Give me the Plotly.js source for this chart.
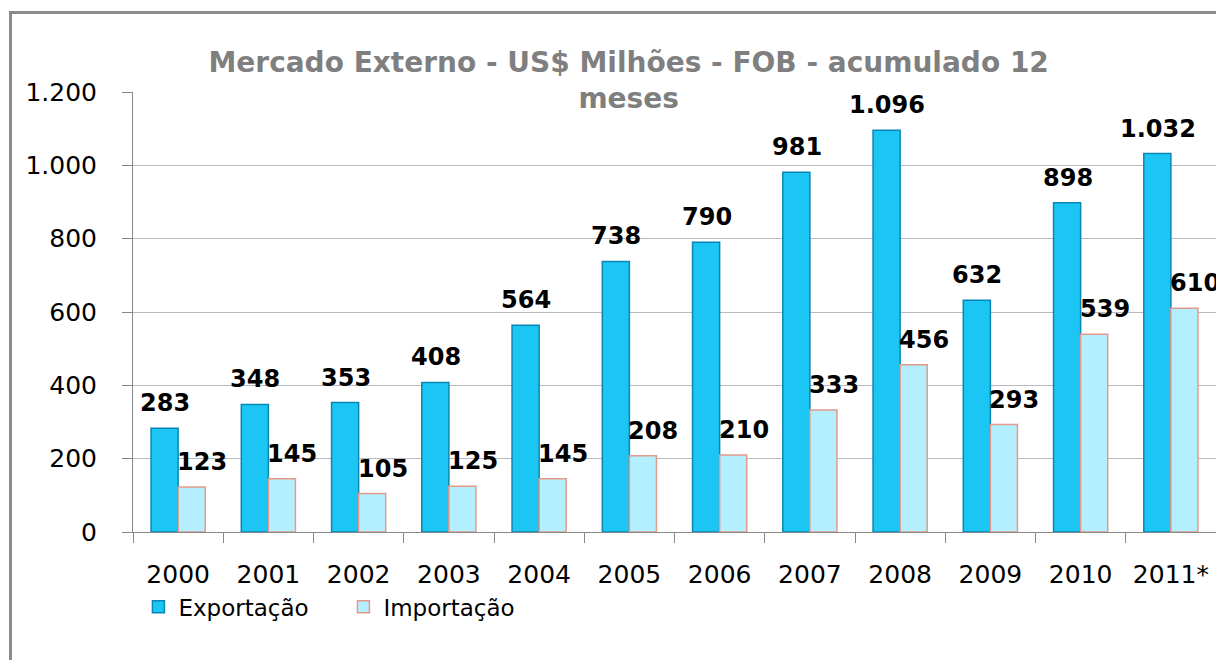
<!DOCTYPE html>
<html>
<head>
<meta charset="utf-8">
<script src="https://cdn.plot.ly/plotly-3.0.1.min.js"></script>
<style>
html,body{margin:0;padding:0;width:1216px;height:660px;overflow:hidden;background:#fff;}
#chart{position:absolute;left:0;top:0;width:1216px;height:660px;}
#frame{position:absolute;left:9px;top:11px;width:1400px;height:900px;border:3px solid #8a8a8a;pointer-events:none;}
</style>
</head>
<body>
<div id="chart"></div>
<div id="frame"></div>
<script>
const years = ["2000","2001","2002","2003","2004","2005","2006","2007","2008","2009","2010","2011*"];
const exportacao = [283,348,353,408,564,738,790,981,1096,632,898,1032];
const importacao = [123,145,105,125,145,208,210,333,456,293,539,610];
const exportLabels = ["283","348","353","408","564","738","790","981","1.096","632","898","1.032"];
const importLabels = ["123","145","105","125","145","208","210","333","456","293","539","610"];
const yTickVals = [0,200,400,600,800,1000,1200];
const yTickText = ["0","200","400","600","800","1.000","1.200"];

const labelFont = {family:"DejaVu Sans", size:24, color:"#000", weight:"bold"};

const data = [
  {type:"bar", name:"Exportação", x:years, y:exportacao,
   marker:{color:"#1cc6f4", line:{color:"#0a86b4", width:1.5}}},
  {type:"bar", name:"Importação", x:years, y:importacao,
   marker:{color:"#b4efff", line:{color:"#e39a8a", width:1.5}}}
];

const annotations = [];
years.forEach((yr, i) => {
  annotations.push({x:i, y:exportacao[i], text:exportLabels[i], xref:"x", yref:"y",
    showarrow:false, xanchor:"center", yanchor:"bottom", xshift:-13, yshift:9, font:labelFont});
  annotations.push({x:i, y:importacao[i], text:importLabels[i], xref:"x", yref:"y",
    showarrow:false, xanchor:"center", yanchor:"bottom", xshift:24, yshift:9, font:labelFont});
});

const layout = {
  width:1216, height:660,
  paper_bgcolor:"#fff", plot_bgcolor:"#fff",
  margin:{l:133, r:0, t:92, b:128},
  barmode:"group", bargap:0.4, bargroupgap:0,
  font:{family:"DejaVu Sans", color:"#000"},
  title:{text:"Mercado Externo - US$ Milhões - FOB - acumulado 12<br>meses",
         font:{family:"DejaVu Sans", size:28, color:"#7f7f7f", weight:"bold"},
         x:0.517, xref:"container", xanchor:"center", y:1-72/660, yref:"container", yanchor:"middle"},
  xaxis:{type:"category", range:[-0.5, years.length-0.5], autorange:false,
         showline:true, linecolor:"#888", linewidth:1,
         ticks:"outside", tickson:"boundaries", ticklen:10, tickcolor:"#888",
         ticklabelstandoff:20, tickangle:0,
         tickfont:{family:"DejaVu Sans", size:25, color:"#000"}, showgrid:false},
  yaxis:{range:[0,1200], autorange:false, tickvals:yTickVals, ticktext:yTickText,
         showline:true, linecolor:"#888", linewidth:1,
         ticks:"outside", ticklen:10, tickcolor:"#888",
         ticklabelstandoff:20,
         showgrid:true, gridcolor:"#b8b8c0", gridwidth:1, zeroline:false,
         tickfont:{family:"DejaVu Sans", size:25, color:"#000"}},
  legend:{orientation:"h", x:0.005, xanchor:"left", y:-0.17, yanchor:"middle",
          font:{family:"DejaVu Sans", size:23, color:"#000"},
          entrywidth:160, entrywidthmode:"pixels", itemwidth:30,
          bgcolor:"rgba(0,0,0,0)"},
  annotations:annotations,
  showlegend:true
};

Plotly.newPlot("chart", data, layout, {displayModeBar:false, staticPlot:true});
</script>
</body>
</html>
